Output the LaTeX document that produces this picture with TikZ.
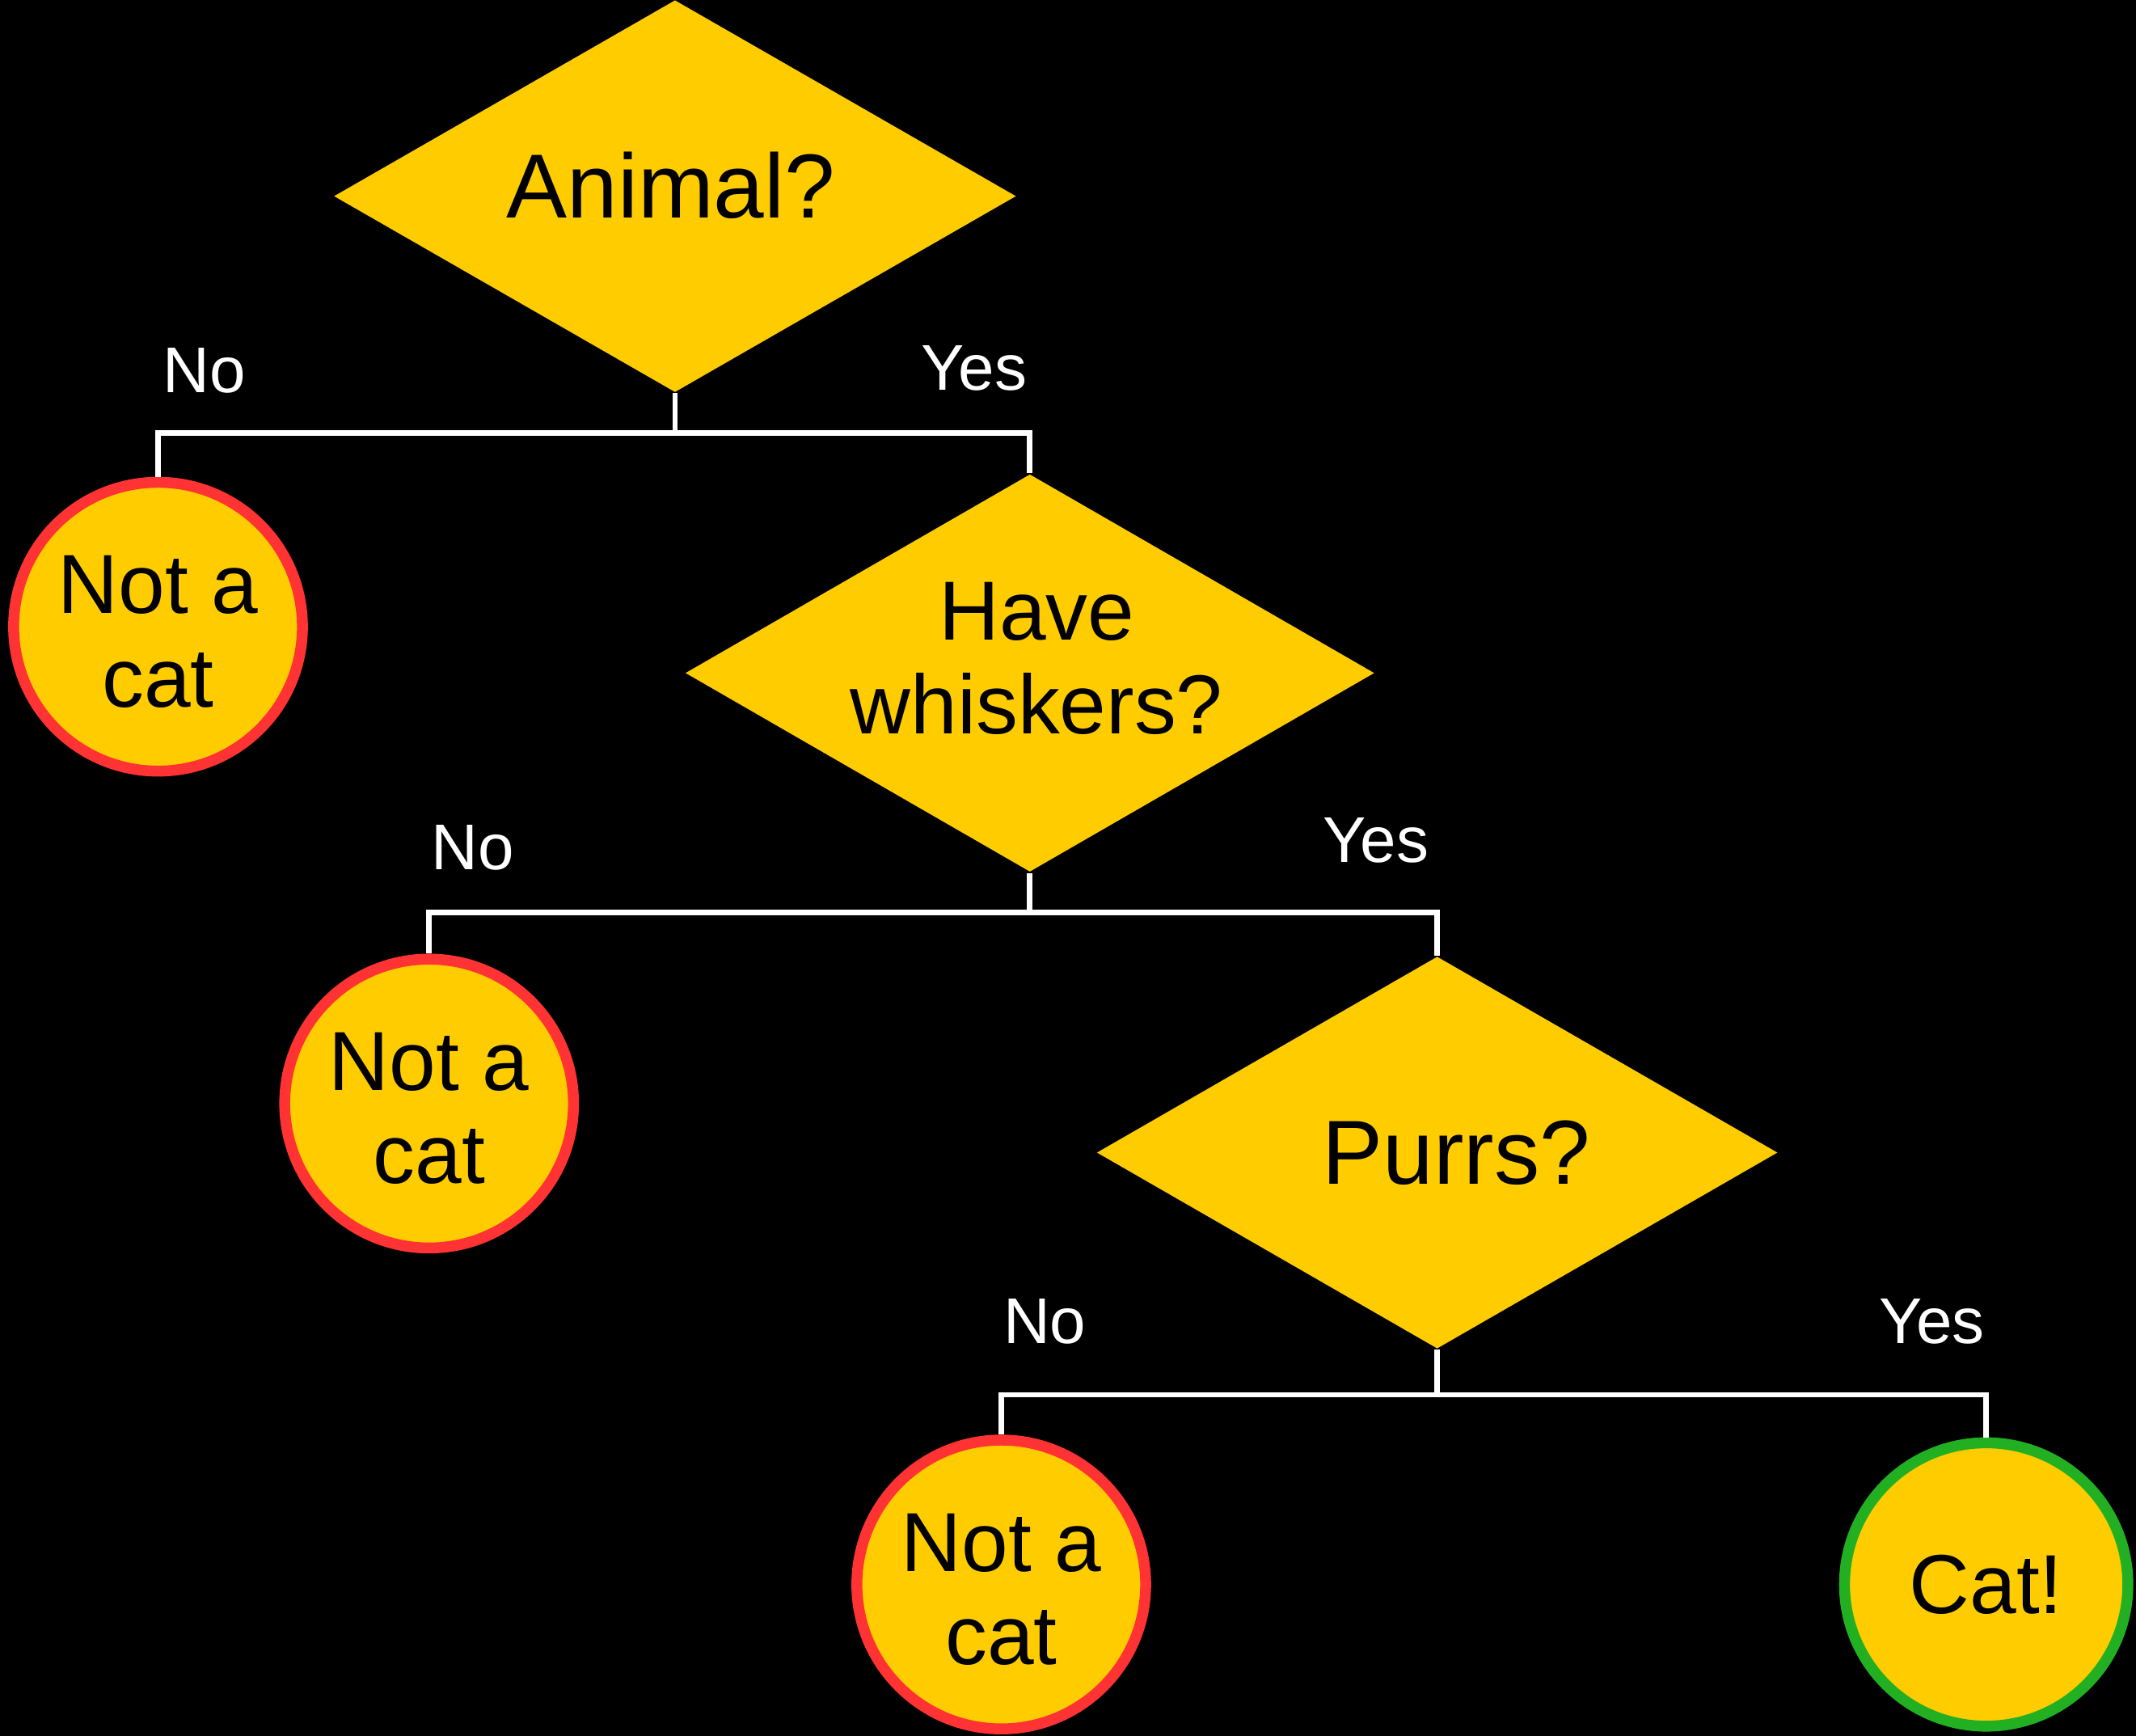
\documentclass[tikz,border=0pt]{standalone}
\usepackage{fontspec}
\setmainfont{Liberation Sans}
\usepackage{xcolor}
\usepackage{tikz}
\usetikzlibrary{shapes.geometric, positioning}

\definecolor{quesyellow}{HTML}{FFCC00}
\definecolor{nored}{HTML}{FF3333}
\definecolor{yesgreen}{HTML}{22B022}

% two centred lines, raised by #1, taking no room
\newcommand{\liftlines}[2]{\raisebox{#1}[0pt][0pt]{\begin{tabular}{@{}c@{}}#2\end{tabular}}}

\begin{document}
\begin{tikzpicture}[
            quest/.style={diamond, fill=quesyellow, inner sep=0pt, aspect=1.74,
                    minimum width=5.01cm, minimum height=2.88cm,
                    align=center, text=black},
            leaf/.style={circle, fill=quesyellow, draw=nored, line width=0.08cm,
                    minimum size=2.12cm, inner sep=0pt, align=center, text=black,
                    font=\fontsize{17.5}{19.5}\selectfont},
            catleaf/.style={leaf, draw=yesgreen},
            lbl/.style={text=white, inner sep=0pt, font=\fontsize{13.5}{15}\selectfont},
            wire/.style={draw=white, line width=0.04cm}
            ]

            %% ---- background ----
            \fill[black] (0,0) rectangle (15.68,-12.74);
            \useasboundingbox (0,0) rectangle (15.68,-12.74);

            %% ---- Questions ----
            \node[quest, text depth=0.16cm, font=\fontsize{19}{21}\selectfont] (animal) at (4.955,-1.44) {Animal?\hspace*{0.06cm}};
            \node[quest, minimum width=5.06cm, minimum height=2.92cm,
                  font=\fontsize{17.5}{19.5}\selectfont] (whisk) at (7.56,-4.94) {\hspace*{0.1cm}\liftlines{-3.3pt}{Have\\whiskers?}};
            \node[quest, minimum width=5.0cm, font=\fontsize{19}{21}\selectfont] (purr) at (10.55,-8.46) {\hspace*{0.28cm}Purrs?};

            %% ---- Answers ----
            \node[leaf] (nocat1) at (1.16,-4.60)  {\liftlines{-7.4pt}{Not a\\cat}};
            \node[leaf] (nocat2) at (3.15,-8.10)  {\liftlines{-7.4pt}{Not a\\cat}};
            \node[leaf] (nocat3) at (7.35,-11.63) {\liftlines{-7.4pt}{Not a\\cat}};
            \node[catleaf, minimum size=2.08cm] (cat) at (14.58,-11.63) {Cat!};

            %% ---- Junctions ----
            \path (animal.south) ++(0,-0.29) coordinate (jan);
            \path (whisk.south)  ++(0,-0.29) coordinate (jwh);
            \path (purr.south)   ++(0,-0.33) coordinate (jpu);

            %% ---- Connectors ----
            % Animal?
            \draw[wire] (animal.south) -- (jan);
            \draw[wire] (jan) -| (nocat1.north);
            \draw[wire] (jan) -| (whisk.north);
            % Have whiskers?
            \draw[wire] (whisk.south) -- (jwh);
            \draw[wire] (jwh) -| (nocat2.north);
            \draw[wire] (jwh) -| (purr.north);
            % Purrs?
            \draw[wire] (purr.south) -- (jpu);
            \draw[wire] (jpu) -| (nocat3.north);
            \draw[wire] (jpu) -| (cat.north);

            %% ---- Labels ----
            \node[lbl] (no1)  at (1.50,-2.72)  {No};
            \node[lbl] (yes1) at (7.15,-2.70)  {Yes};
            \node[lbl] (no2)  at (3.47,-6.22)  {No};
            \node[lbl] (yes2) at (10.10,-6.17) {Yes};
            \node[lbl] (no3)  at (7.67,-9.70)  {No};
            \node[lbl] (yes3) at (14.18,-9.70) {Yes};
        \end{tikzpicture}
\end{document}
